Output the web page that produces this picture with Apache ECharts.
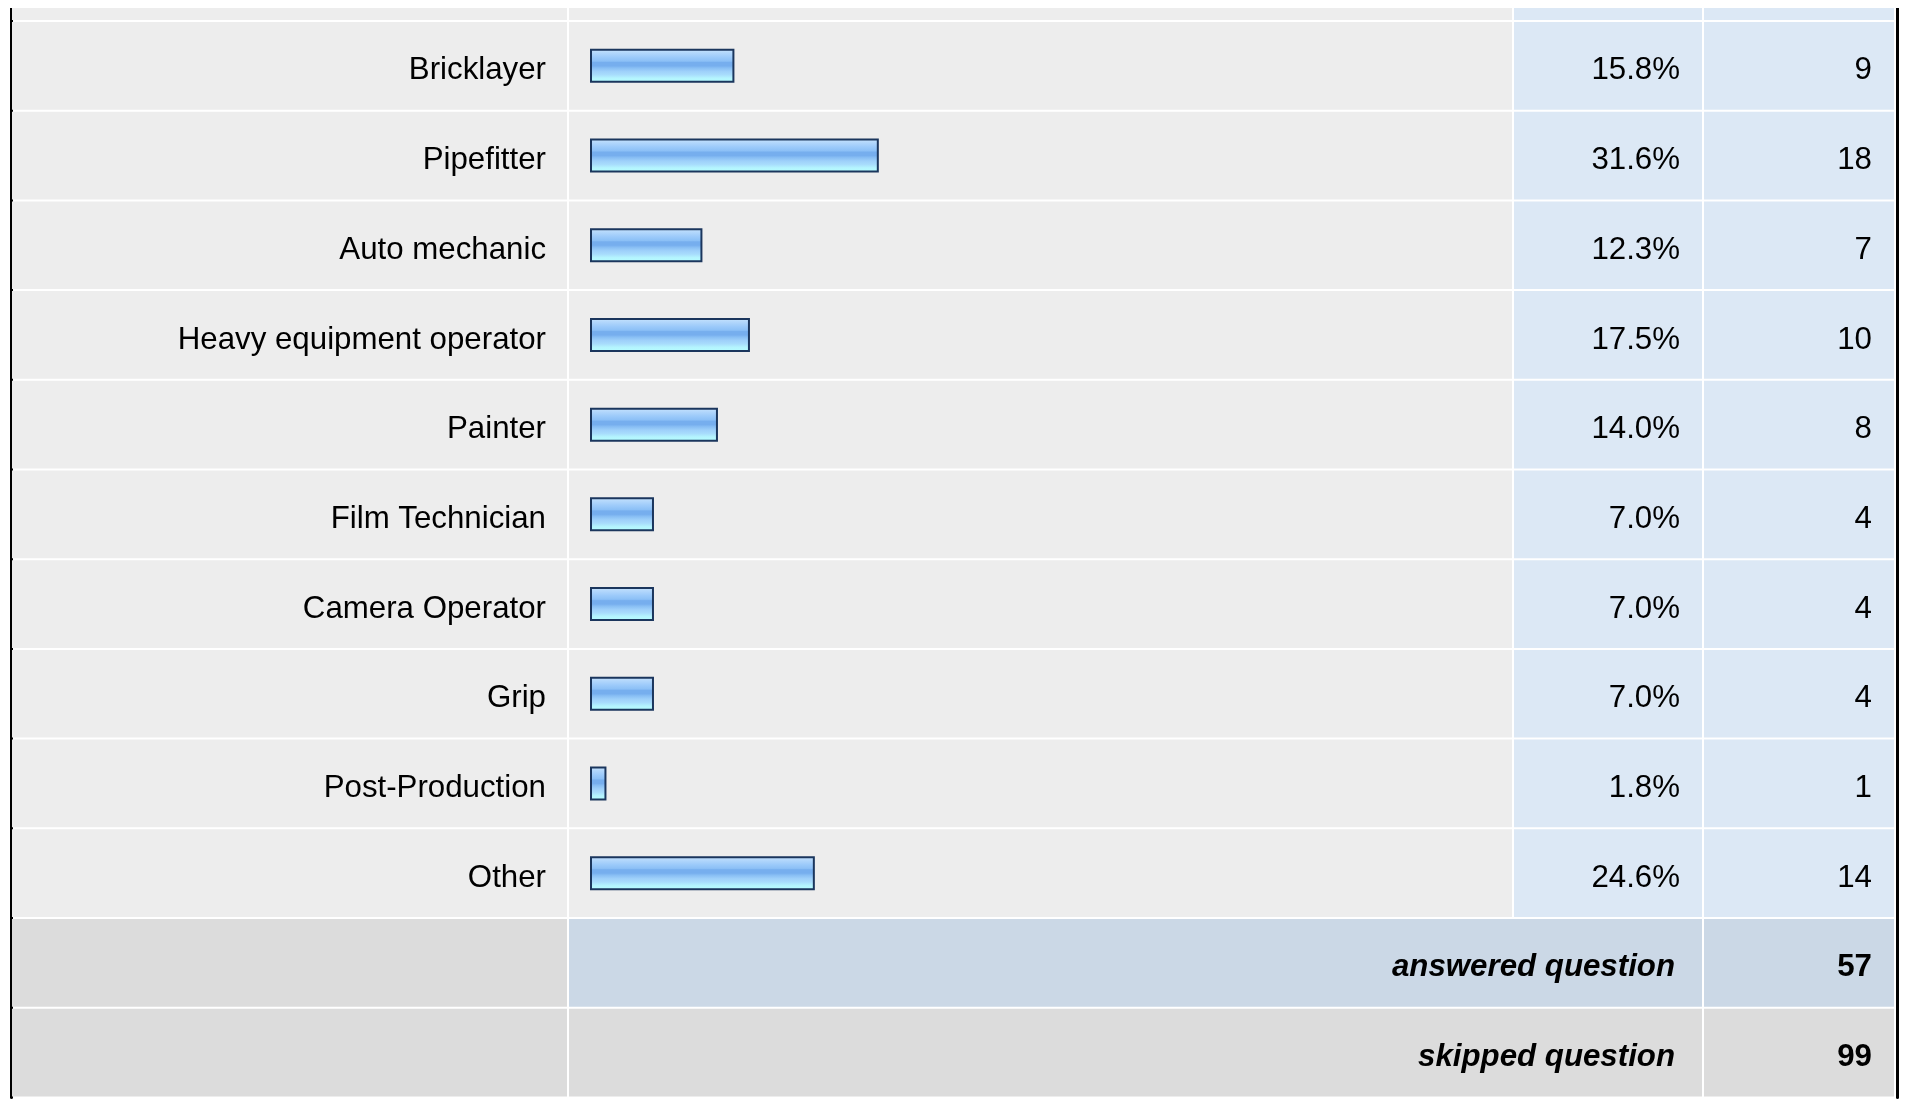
<!DOCTYPE html>
<html>
<head>
<meta charset="utf-8">
<script src="https://cdn.jsdelivr.net/npm/echarts@6/dist/echarts.min.js"></script>
<style>
  html, body { margin: 0; padding: 0; background: #ffffff; }
  #chart { position: absolute; left: 0; top: 8px; width: 1909px; height: 1091px; }
</style>
</head>
<body>
<div id="chart"></div>
<script>
// ---- data ----
const categories = ['Bricklayer', 'Pipefitter', 'Auto mechanic', 'Heavy equipment operator', 'Painter',
  'Film Technician', 'Camera Operator', 'Grip', 'Post-Production', 'Other'];
const percents = [15.8, 31.6, 12.3, 17.5, 14.0, 7.0, 7.0, 7.0, 1.8, 24.6];
const counts = [9, 18, 7, 10, 8, 4, 4, 4, 1, 14];
const summaryLabels = ['answered question', 'skipped question'];
const summaryCounts = [57, 99];

// ---- layout / style ----
const FONT = '"Liberation Sans", Arial, Helvetica, sans-serif';
const FS = 31.25;
const ROW_H = 89.7;
const GRID_TOP = 21 - 8 - ROW_H;          // first (cut-off) header row is mostly above the view
const COL_BOUNDS = [0, 557, 1502, 1692, 1884]; // table column boundaries on the table axis
const TEXT_DY = 5;

const rows = ['__head'].concat(categories, summaryLabels);
const nRows = rows.length;
const GRID_H = nRows * ROW_H;

const GRAY = '#ededed', BLUE = '#dce8f5', SUM_GRAY = '#dcdcdc', SUM_BLUE = '#cbd8e6';

function renderCells(params, api) {
  const r = api.value(1);
  const c = api.coord([0, r]);
  const h = api.size([0, 1])[1];
  const top = c[1] - h / 2, bottom = c[1] + h / 2;
  const xs = COL_BOUNDS.map(v => api.coord([v, r])[0]);
  let spans;
  const nCat = categories.length;
  if (r === nCat + 1) {
    spans = [[0, 1, SUM_GRAY], [1, 3, SUM_BLUE], [3, 4, SUM_BLUE]];
  } else if (r === nCat + 2) {
    spans = [[0, 1, SUM_GRAY], [1, 3, SUM_GRAY], [3, 4, SUM_GRAY]];
  } else {
    spans = [[0, 1, GRAY], [1, 2, GRAY], [2, 3, BLUE], [3, 4, BLUE]];
  }
  const children = spans.map(s => ({
    type: 'rect',
    shape: { x: xs[s[0]] + 1, y: top + 1, width: xs[s[1]] - xs[s[0]] - 2, height: bottom - top - 2 },
    style: { fill: s[2] },
    silent: true
  }));
  const ty = c[1] + TEXT_DY;
  if (r >= 1 && r <= nCat) {
    const i = r - 1;
    children.push({
      type: 'text', x: xs[0] + 535, y: ty,
      style: { text: categories[i], fill: '#000', fontSize: FS, fontFamily: FONT,
        align: 'right', verticalAlign: 'middle' }
    });
    children.push({
      type: 'text', x: xs[3] - 23, y: ty,
      style: { text: percents[i].toFixed(1) + '%', fill: '#000', fontSize: FS, fontFamily: FONT,
        align: 'right', verticalAlign: 'middle' }
    });
    children.push({
      type: 'text', x: xs[4] - 23, y: ty,
      style: { text: String(counts[i]), fill: '#000', fontSize: FS, fontFamily: FONT,
        align: 'right', verticalAlign: 'middle' }
    });
  } else if (r > nCat) {
    const j = r - nCat - 1;
    children.push({
      type: 'text', x: xs[3] - 28, y: ty,
      style: { text: summaryLabels[j], fill: '#000', fontSize: FS, fontFamily: FONT,
        fontWeight: 'bold', fontStyle: 'italic', align: 'right', verticalAlign: 'middle' }
    });
    children.push({
      type: 'text', x: xs[4] - 23, y: ty,
      style: { text: String(summaryCounts[j]), fill: '#000', fontSize: FS, fontFamily: FONT,
        fontWeight: 'bold', align: 'right', verticalAlign: 'middle' }
    });
  }
  return { type: 'group', children: children };
}

const chart = echarts.init(document.getElementById('chart'), null, { renderer: 'canvas' });
chart.setOption({
  animation: false,
  backgroundColor: '#ffffff',
  grid: [
    { left: 11, right: 14, top: GRID_TOP, height: GRID_H, containLabel: false, outerBoundsMode: 'none' },
    { left: 590, width: 914, top: GRID_TOP, height: GRID_H, containLabel: false, outerBoundsMode: 'none' }
  ],
  xAxis: [
    { type: 'value', gridIndex: 0, min: 0, max: COL_BOUNDS[COL_BOUNDS.length - 1], show: false },
    { type: 'value', gridIndex: 1, min: 0, max: 100, show: false }
  ],
  yAxis: [
    { type: 'category', gridIndex: 0, data: rows, inverse: true, position: 'left', offset: 1.5,
      axisLine: { show: true, lineStyle: { color: '#000', width: 3 } },
      axisTick: { show: false }, axisLabel: { show: false }, splitLine: { show: false } },
    { type: 'category', gridIndex: 0, data: rows, inverse: true, position: 'right', offset: 2.5,
      axisLine: { show: true, lineStyle: { color: '#000', width: 3 } },
      axisTick: { show: false }, axisLabel: { show: false }, splitLine: { show: false } },
    { type: 'category', gridIndex: 1, data: rows, inverse: true, position: 'left', show: false }
  ],
  series: [
    {
      type: 'custom', xAxisIndex: 0, yAxisIndex: 0, z: 1, silent: true,
      renderItem: renderCells,
      encode: { x: 0, y: 1 },
      data: rows.map((_, i) => [0, i])
    },
    {
      type: 'bar', xAxisIndex: 1, yAxisIndex: 2, z: 5, silent: true,
      barWidth: 34,
      data: [null].concat(percents, [null, null]),
      itemStyle: {
        borderColor: '#1b365d', borderWidth: 2,
        color: {
          type: 'linear', x: 0, y: 0, x2: 0, y2: 1,
          colorStops: [
            { offset: 0.0, color: '#cce6fc' },
            { offset: 0.1, color: '#b6d9fc' },
            { offset: 0.25, color: '#9ccafa' },
            { offset: 0.36, color: '#8cc0f6' },
            { offset: 0.4, color: '#76aeee' },
            { offset: 0.5, color: '#76aeee' },
            { offset: 0.56, color: '#88bef4' },
            { offset: 0.66, color: '#9ed0fa' },
            { offset: 0.76, color: '#a8dcfc' },
            { offset: 0.86, color: '#b4f4fe' },
            { offset: 1.0, color: '#b6feff' }
          ]
        }
      }
    }
  ]
});
</script>
</body>
</html>
